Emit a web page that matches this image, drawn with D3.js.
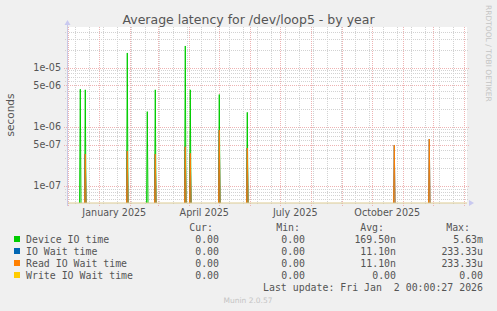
<!DOCTYPE html>
<html>
<head>
<meta charset="utf-8">
<script src="https://cdn.jsdelivr.net/npm/d3@7"></script>
<style>
  body { margin: 0; background: #f0f0f0; }
  svg { display: block; }
</style>
</head>
<body>
<svg id="chart" width="497" height="311"></svg>
<script>
// spike days (everything else is 0 for the whole year)
const spikeDates = ["2024-12-13", "2024-12-18", "2025-01-29", "2025-02-18", "2025-02-26",
  "2025-03-28", "2025-04-02", "2025-05-01", "2025-05-29", "2025-10-23", "2025-11-27"];
const deviceIO = [4.3e-6, 4.2e-6, 1.76e-5, 1.8e-6, 4.2e-6, 2.31e-5, 4.2e-6, 3.5e-6, 1.75e-6, 0, 0];
const ioWait   = [0, 3.46e-7, 3.9e-7, 0, 3.46e-7, 4.6e-7, 3.56e-7, 8.8e-7, 4.37e-7, 4.92e-7, 6.2e-7];
const readIO   = [0, 3.46e-7, 3.9e-7, 0, 3.46e-7, 4.6e-7, 3.56e-7, 8.8e-7, 4.37e-7, 4.92e-7, 6.2e-7];
const writeIO  = [0, 0, 0, 0, 0, 0, 0, 0, 0, 0, 0];

const yTicks = [1e-5, 5e-6, 1e-6, 5e-7, 1e-7];
const yTickLabels = ["1e-05", "5e-06", "1e-06", "5e-07", "1e-07"];
const xLabelMonths = ["2025-01-16", "2025-04-16", "2025-07-16", "2025-10-16"];
const xLabels = ["January 2025", "April 2025", "July 2025", "October 2025"];

const seriesNames = ["Device IO time", "IO Wait time", "Read IO Wait time", "Write IO Wait time"];
const seriesColors = ["#00cc00", "#0066b3", "#ff8000", "#ffcc00"];
const curVals = ["0.00", "0.00", "0.00", "0.00"];
const minVals = ["0.00", "0.00", "0.00", "0.00"];
const avgVals = ["169.50n", "11.10n", "11.10n", "0.00"];
const maxVals = ["5.63m", "233.33u", "233.33u", "0.00"];

const DAY = 864e5;
const pLeft = 67, pRight = 467, pTop = 27, pBottom = 203;

const svg = d3.select("#chart");
const parse = s => new Date(s + "T00:00:00Z");

const x = d3.scaleUtc()
  .domain([new Date(Date.UTC(2024, 10, 29, 17)), new Date(Date.UTC(2024, 10, 29, 17) + 400 * DAY)])
  .range([pLeft, pRight]);
const y = d3.scaleLog()
  .domain([5.16e-8, 4.83e-5])
  .range([pBottom, pTop])
  .clamp(true);
const floor = y.domain()[0];

// plot background
svg.append("rect").attr("x", pLeft).attr("y", pTop)
  .attr("width", pRight - pLeft).attr("height", pBottom - pTop).attr("fill", "#fff");

// minor horizontal grid (2..9 of each decade)
const minorY = [];
for (let e = -8; e <= -5; e++) {
  for (let m = 2; m <= 9; m++) {
    const v = m * Math.pow(10, e);
    if (m !== 5 && v > floor && v < y.domain()[1]) minorY.push(v);
  }
}
svg.append("g").selectAll("line").data(minorY).join("line")
  .attr("x1", pLeft - 2).attr("x2", pRight + 2)
  .attr("y1", d => Math.round(y(d)) + 0.5).attr("y2", d => Math.round(y(d)) + 0.5)
  .attr("stroke", "#d2d2d2").attr("stroke-dasharray", "1,1");

// minor vertical grid: every other sunday
const ref = parse("2025-12-21");
const minorX = d3.utcSunday.range(x.domain()[0], x.domain()[1])
  .filter(d => Math.round((ref - d) / (7 * DAY)) % 2 === 0);
svg.append("g").selectAll("line").data(minorX).join("line")
  .attr("x1", d => Math.round(x(d)) + 0.5).attr("x2", d => Math.round(x(d)) + 0.5)
  .attr("y1", pTop).attr("y2", pBottom + 2)
  .attr("stroke", "#d2d2d2").attr("stroke-dasharray", "1,1");

// major grid
svg.append("g").selectAll("line").data(yTicks).join("line")
  .attr("x1", pLeft - 3).attr("x2", pRight + 3)
  .attr("y1", d => Math.round(y(d)) + 0.5).attr("y2", d => Math.round(y(d)) + 0.5)
  .attr("stroke", "#eeb3b3").attr("stroke-dasharray", "1,1");
svg.append("g").selectAll("line").data(d3.utcMonth.range(x.domain()[0], x.domain()[1])).join("line")
  .attr("x1", d => Math.round(x(d)) + 0.5).attr("x2", d => Math.round(x(d)) + 0.5)
  .attr("y1", pTop).attr("y2", pBottom + 3)
  .attr("stroke", "#eeb3b3").attr("stroke-dasharray", "1,1");

// spikes
const spikeLine = d3.line().x(d => x(d[0])).y(d => y(d[1]));
function drawSeries(vals, color) {
  const g = svg.append("g");
  spikeDates.forEach((s, i) => {
    if (!vals[i]) return;
    const d = parse(s);
    g.append("path")
      .attr("d", spikeLine([[new Date(+d - DAY * 0.7), floor], [d, vals[i]], [new Date(+d + DAY * 0.7), floor]]))
      .attr("fill", "none").attr("stroke", color).attr("stroke-width", 1);
  });
}
drawSeries(deviceIO, seriesColors[0]);
drawSeries(ioWait, seriesColors[1]);
drawSeries(readIO, seriesColors[2]);

// write IO wait: zero all year, sits on the floor
svg.append("path")
  .attr("d", spikeLine([[x.domain()[0], writeIO[0] || floor], [x.domain()[1], writeIO[0] || floor]]))
  .attr("fill", "none").attr("stroke", "#dccb93").attr("stroke-width", 1);

// axes
svg.append("line").attr("x1", pLeft + 0.5).attr("x2", pLeft + 0.5).attr("y1", pBottom + 3).attr("y2", pTop - 3)
  .attr("stroke", "#c9c9e6");
svg.append("path").attr("d", `M${pLeft - 2.5},${pTop - 2} L${pLeft + 3.5},${pTop - 2} L${pLeft + 0.5},${pTop - 7} Z`)
  .attr("fill", "#c9c9f0");
svg.append("path").attr("d", `M${pRight + 2},${pBottom - 3} L${pRight + 2},${pBottom + 3} L${pRight + 7},${pBottom} Z`)
  .attr("fill", "#c9c9f0");

// tick labels
svg.append("g").selectAll("text").data(yTicks).join("text")
  .attr("x", 61).attr("y", d => y(d) + 3.5)
  .attr("text-anchor", "end")
  .attr("font-family", "DejaVu Sans").attr("font-size", 9.6).attr("fill", "#555")
  .text((d, i) => yTickLabels[i]);
svg.append("g").selectAll("text").data(xLabelMonths).join("text")
  .attr("x", d => x(parse(d))).attr("y", 216)
  .attr("text-anchor", "middle")
  .attr("font-family", "DejaVu Sans").attr("font-size", 9.6).attr("fill", "#555")
  .text((d, i) => xLabels[i]);

// title and side texts
svg.append("text").attr("x", 248.5).attr("y", 24).attr("text-anchor", "middle")
  .attr("font-family", "DejaVu Sans").attr("font-size", 12.5).attr("fill", "#555")
  .text("Average latency for /dev/loop5 - by year");
svg.append("text").attr("transform", "translate(14,115) rotate(-90)").attr("text-anchor", "middle")
  .attr("font-family", "DejaVu Sans").attr("font-size", 10.5).attr("fill", "#555")
  .text("seconds");
svg.append("text").attr("transform", "translate(486,5) rotate(90)").attr("text-anchor", "start")
  .attr("font-family", "DejaVu Sans").attr("font-size", 7.5).attr("fill", "#c4c4c4")
  .text("RRDTOOL / TOBI OETIKER");

// legend
const mono = "DejaVu Sans Mono";
const lg = svg.append("g").attr("font-family", mono).attr("font-size", 9.9).attr("fill", "#555");
[["Cur:", 213], ["Min:", 300], ["Avg:", 384], ["Max:", 470]].forEach(h => {
  lg.append("text").attr("x", h[1]).attr("y", 231).attr("text-anchor", "end").text(h[0]);
});
seriesNames.forEach((name, i) => {
  const yy = 243 + i * 12;
  lg.append("rect").attr("x", 14).attr("y", yy - 7).attr("width", 6).attr("height", 6)
    .attr("fill", seriesColors[i]);
  lg.append("text").attr("x", 26).attr("y", yy).text(name);
  lg.append("text").attr("x", 219).attr("y", yy).attr("text-anchor", "end").text(curVals[i]);
  lg.append("text").attr("x", 305).attr("y", yy).attr("text-anchor", "end").text(minVals[i]);
  lg.append("text").attr("x", 396).attr("y", yy).attr("text-anchor", "end").text(avgVals[i]);
  lg.append("text").attr("x", 483).attr("y", yy).attr("text-anchor", "end").text(maxVals[i]);
});
lg.append("text").attr("x", 483).attr("y", 291).attr("text-anchor", "end")
  .attr("xml:space", "preserve").style("white-space", "pre")
  .text("Last update: Fri Jan  2 00:00:27 2026");
svg.append("text").attr("x", 248).attr("y", 303).attr("text-anchor", "middle")
  .attr("font-family", "DejaVu Sans").attr("font-size", 7.5).attr("fill", "#c4c4c4")
  .text("Munin 2.0.57");
</script>
</body>
</html>
